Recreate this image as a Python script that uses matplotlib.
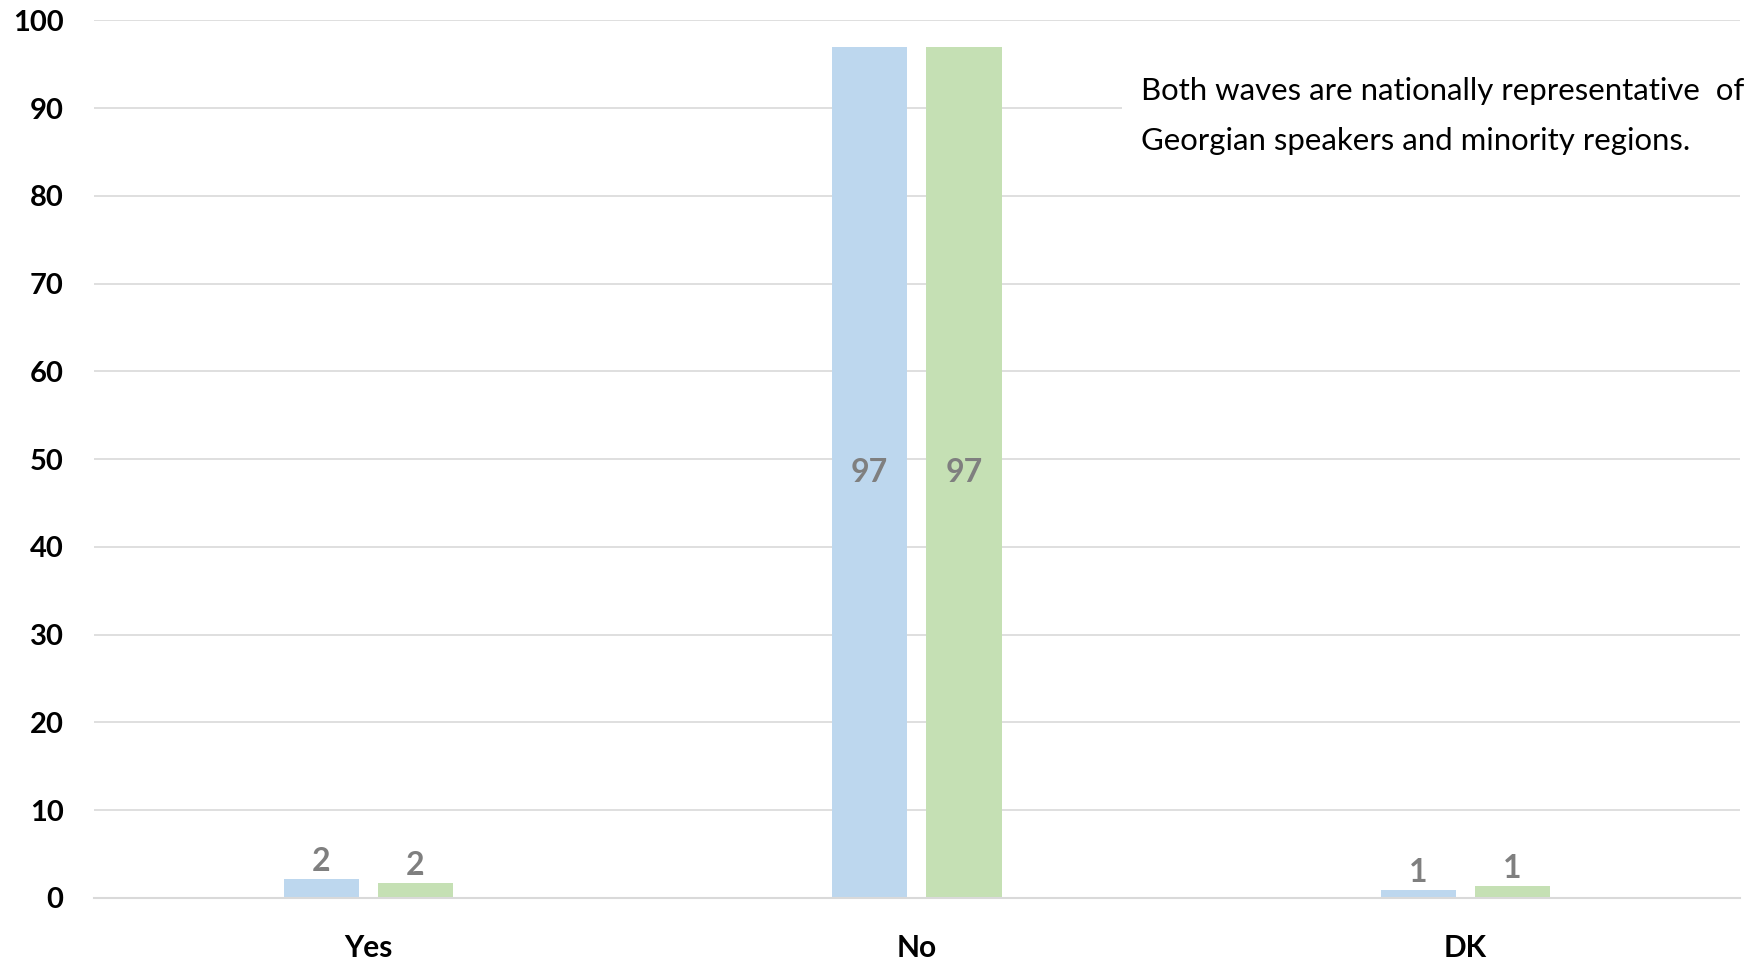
import matplotlib.pyplot as plt
import numpy as np

# data
categories = ["Yes", "No", "DK"]
wave1 = [2.2, 96.9, 0.9]
wave2 = [1.7, 96.9, 1.4]
labels1 = ["2", "97", "1"]
labels2 = ["2", "97", "1"]
yticks = [0, 10, 20, 30, 40, 50, 60, 70, 80, 90, 100]
note = "Both waves are nationally representative  of\nGeorgian speakers and minority regions."

BLUE = "#BDD7EE"
GREEN = "#C5E0B4"
LABEL_GREY = "#7F7F7F"
GRID = "#D9D9D9"

plt.rcParams["font.family"] = ["Lato", "DejaVu Sans"]

fig = plt.figure(figsize=(17.58, 9.63), dpi=100)
ax = fig.add_axes([0.0535, 0.0675, 0.936, 0.9115])

x = np.arange(len(categories))
w = 0.137
off = 0.086
b1 = ax.bar(x - off, wave1, width=w, color=BLUE, zorder=2)
b2 = ax.bar(x + off, wave2, width=w, color=GREEN, zorder=2)

for bars, labs in ((b1, labels1), (b2, labels2)):
    for rect, lab in zip(bars, labs):
        h = rect.get_height()
        cx = rect.get_x() + rect.get_width() / 2
        if h > 20:
            ax.text(cx, h / 2, lab, ha="center", va="center", fontsize=23,
                    fontweight="bold", color=LABEL_GREY, zorder=3)
        else:
            ax.text(cx, h + 0.3, lab, ha="center", va="bottom", fontsize=23,
                    fontweight="bold", color=LABEL_GREY, zorder=3)

ax.set_xlim(-0.5, 2.5)
ax.set_ylim(0, 100)
ax.set_yticks(yticks)
ax.set_xticks(x)
ax.set_xticklabels(categories, fontsize=21.5, fontweight="bold")
ax.set_yticklabels([str(t) for t in yticks], fontsize=21, fontweight="bold")
ax.tick_params(length=0)
ax.tick_params(axis="y", pad=22)
ax.tick_params(axis="x", pad=26)

ax.yaxis.grid(True, color=GRID, linewidth=1.2, zorder=0)
ax.set_axisbelow(True)
for s in ["top", "right", "left"]:
    ax.spines[s].set_visible(False)
ax.spines["bottom"].set_color(GRID)
ax.spines["bottom"].set_linewidth(1.5)

fig.text(1141 / 1758, 1 - 77 / 963, note, fontsize=22.4, va="top", ha="left",
         linespacing=1.95,
         bbox=dict(facecolor="white", edgecolor="none", pad=14))

fig.savefig("out.png", dpi=100)
